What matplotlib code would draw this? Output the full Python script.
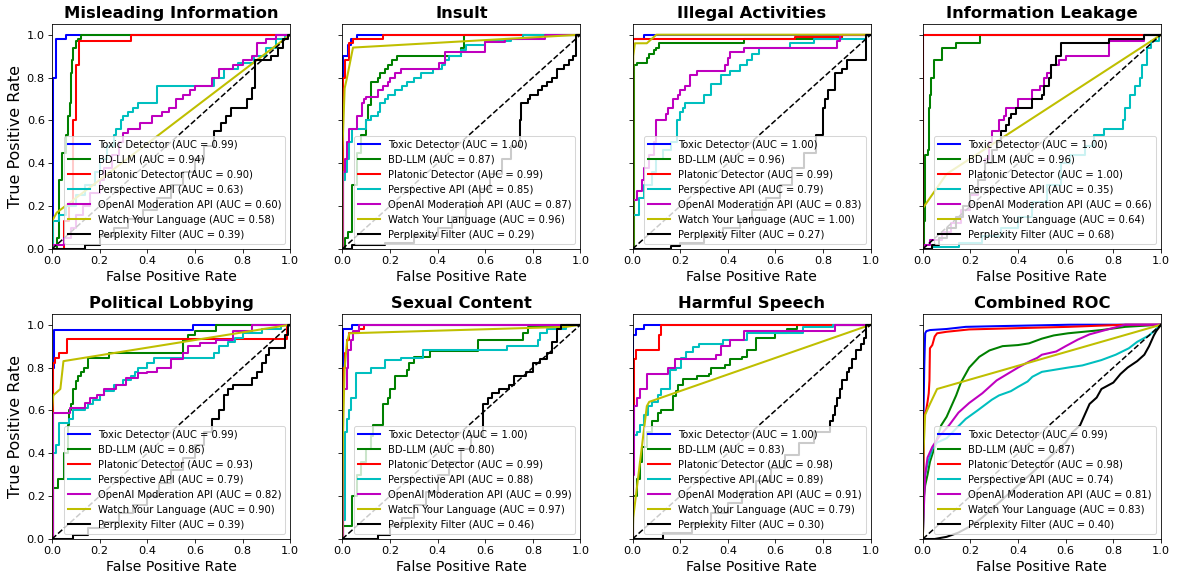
import matplotlib
matplotlib.use('Agg')
import matplotlib.pyplot as plt

models = ['Toxic Detector', 'BD-LLM', 'Platonic Detector', 'Perspective API',
          'OpenAI Moderation API', 'Watch Your Language', 'Perplexity Filter']
keys = ['toxic', 'bdllm', 'platonic', 'perspective', 'openai', 'wyl', 'perplexity']
colors = ['b', 'g', 'r', 'c', 'm', 'y', 'k']

titles = ['Misleading Information', 'Insult', 'Illegal Activities', 'Information Leakage',
          'Political Lobbying', 'Sexual Content', 'Harmful Speech', 'Combined ROC']

# AUC values shown in the legends
auc_misleading = [0.99, 0.94, 0.90, 0.63, 0.60, 0.58, 0.39]
auc_insult = [1.00, 0.87, 0.99, 0.85, 0.87, 0.96, 0.29]
auc_illegal = [1.00, 0.96, 0.99, 0.79, 0.83, 1.00, 0.27]
auc_leakage = [1.00, 0.96, 1.00, 0.35, 0.66, 0.64, 0.68]
auc_political = [0.99, 0.86, 0.93, 0.79, 0.82, 0.90, 0.39]
auc_sexual = [1.00, 0.80, 0.99, 0.88, 0.99, 0.97, 0.46]
auc_harmful = [1.00, 0.83, 0.98, 0.89, 0.91, 0.79, 0.30]
auc_combined = [0.99, 0.87, 0.98, 0.74, 0.81, 0.83, 0.40]

# ROC vertices (fpr, tpr)
misleading = {
    'toxic': [(0, 0), (0.005, 0), (0.005, 0.8), (0.015, 0.8), (0.015, 0.98), (0.06, 0.98), (0.06, 1), (1, 1)],
    'bdllm': [(0, 0), (0.02, 0), (0.02, 0.05), (0.028, 0.05), (0.028, 0.32), (0.04, 0.32), (0.04, 0.45),
              (0.06, 0.45), (0.06, 0.53), (0.068, 0.53), (0.068, 0.62), (0.075, 0.62), (0.075, 0.68),
              (0.08, 0.68), (0.08, 0.82), (0.085, 0.82), (0.085, 0.88), (0.09, 0.88), (0.09, 0.94),
              (0.1, 0.94), (0.1, 0.97), (0.11, 0.97), (0.11, 0.98), (0.12, 0.98), (0.12, 1), (1, 1)],
    'platonic': [(0, 0), (0.05, 0), (0.05, 0.13), (0.07, 0.13), (0.07, 0.2), (0.09, 0.2), (0.09, 0.6),
                 (0.1, 0.6), (0.1, 0.86), (0.115, 0.86), (0.115, 0.97), (0.33, 0.97), (0.33, 1), (1, 1)],
    'perspective': [(0, 0), (0.003, 0), (0.003, 0.1), (0.005, 0.1), (0.005, 0.13), (0.03, 0.13), (0.03, 0.16),
                    (0.06, 0.16), (0.06, 0.2), (0.1, 0.2), (0.1, 0.25), (0.14, 0.25), (0.14, 0.3),
                    (0.18, 0.3), (0.18, 0.36), (0.2, 0.36), (0.2, 0.42), (0.23, 0.42), (0.23, 0.48),
                    (0.26, 0.48), (0.26, 0.53), (0.27, 0.53), (0.27, 0.56), (0.29, 0.56), (0.29, 0.6),
                    (0.3, 0.6), (0.3, 0.62), (0.32, 0.62), (0.32, 0.64), (0.34, 0.64), (0.34, 0.66),
                    (0.36, 0.66), (0.36, 0.68), (0.44, 0.68), (0.44, 0.76), (0.68, 0.76), (0.68, 0.8),
                    (0.72, 0.8), (0.72, 0.84), (0.78, 0.84), (0.78, 0.87), (0.85, 0.87), (0.85, 0.9),
                    (0.9, 0.9), (0.9, 0.94), (0.94, 0.94), (0.94, 0.98), (0.98, 0.98), (0.98, 1), (1, 1)],
    'openai': [(0, 0), (0, 0.02), (0.05, 0.02), (0.05, 0.05), (0.08, 0.05), (0.08, 0.1), (0.1, 0.1),
               (0.1, 0.16), (0.13, 0.16), (0.13, 0.2), (0.16, 0.2), (0.16, 0.26), (0.2, 0.26), (0.2, 0.32),
               (0.22, 0.32), (0.22, 0.38), (0.25, 0.38), (0.25, 0.44), (0.28, 0.44), (0.28, 0.5),
               (0.3, 0.5), (0.3, 0.54), (0.32, 0.54), (0.32, 0.56), (0.37, 0.56), (0.37, 0.59),
               (0.42, 0.59), (0.42, 0.62), (0.46, 0.62), (0.46, 0.64), (0.49, 0.64), (0.49, 0.66),
               (0.52, 0.66), (0.52, 0.7), (0.55, 0.7), (0.55, 0.72), (0.58, 0.72), (0.58, 0.74),
               (0.6, 0.74), (0.6, 0.76), (0.67, 0.76), (0.67, 0.8), (0.7, 0.8), (0.7, 0.84),
               (0.76, 0.84), (0.76, 0.86), (0.8, 0.86), (0.8, 0.88), (0.84, 0.88), (0.84, 0.9),
               (0.86, 0.9), (0.86, 0.96), (0.9, 0.96), (0.9, 0.98), (0.94, 0.98), (0.94, 1), (1, 1)],
    'wyl': [(0, 0), (0, 0.13), (0.02, 0.17), (1, 1)],
    'perplexity': [(0, 0), (0.14, 0), (0.14, 0.02), (0.2, 0.02), (0.2, 0.06), (0.26, 0.06), (0.26, 0.1),
                   (0.32, 0.1), (0.32, 0.14), (0.38, 0.14), (0.38, 0.18), (0.44, 0.18), (0.44, 0.24),
                   (0.5, 0.24), (0.5, 0.3), (0.55, 0.3), (0.55, 0.36), (0.6, 0.36), (0.6, 0.42),
                   (0.64, 0.42), (0.64, 0.48), (0.68, 0.48), (0.68, 0.55), (0.71, 0.55), (0.71, 0.59),
                   (0.73, 0.59), (0.73, 0.62), (0.75, 0.62), (0.75, 0.66), (0.82, 0.66), (0.82, 0.7),
                   (0.84, 0.7), (0.84, 0.75), (0.853, 0.75), (0.853, 0.88), (0.92, 0.88), (0.92, 0.9),
                   (0.95, 0.9), (0.95, 0.94), (0.97, 0.94), (0.97, 0.98), (0.99, 0.98), (0.99, 1), (1, 1)],
}

insult = {
    'toxic': [(0, 0), (0.003, 0), (0.003, 0.9), (0.025, 0.9), (0.025, 0.95), (0.035, 0.95), (0.035, 0.98),
              (0.06, 0.98), (0.06, 1), (1, 1)],
    'bdllm': [(0, 0), (0.01, 0), (0.01, 0.05), (0.025, 0.05), (0.025, 0.08), (0.04, 0.08), (0.04, 0.3),
              (0.06, 0.3), (0.06, 0.45), (0.08, 0.45), (0.08, 0.53), (0.1, 0.53), (0.1, 0.6), (0.11, 0.6),
              (0.11, 0.67), (0.12, 0.67), (0.12, 0.78), (0.15, 0.78), (0.15, 0.8), (0.16, 0.8),
              (0.16, 0.82), (0.18, 0.82), (0.18, 0.84), (0.19, 0.84), (0.19, 0.86), (0.21, 0.86),
              (0.21, 0.88), (0.23, 0.88), (0.23, 0.9), (0.5, 0.9), (0.5, 0.94), (0.51, 0.94), (0.51, 1), (1, 1)],
    'platonic': [(0, 0), (0.003, 0), (0.003, 0.8), (0.012, 0.8), (0.012, 0.88), (0.028, 0.88), (0.028, 0.96),
                 (0.045, 0.96), (0.045, 0.98), (0.17, 0.98), (0.17, 1), (1, 1)],
    'perspective': [(0, 0), (0.005, 0), (0.005, 0.32), (0.01, 0.32), (0.01, 0.36), (0.02, 0.36), (0.02, 0.42),
                    (0.03, 0.42), (0.03, 0.5), (0.04, 0.5), (0.04, 0.56), (0.1, 0.56), (0.1, 0.6),
                    (0.12, 0.6), (0.12, 0.62), (0.15, 0.62), (0.15, 0.64), (0.16, 0.64), (0.16, 0.68),
                    (0.18, 0.68), (0.18, 0.7), (0.19, 0.7), (0.19, 0.72), (0.22, 0.72), (0.22, 0.74),
                    (0.25, 0.74), (0.25, 0.76), (0.27, 0.76), (0.27, 0.78), (0.3, 0.78), (0.3, 0.8),
                    (0.33, 0.8), (0.33, 0.82), (0.38, 0.82), (0.38, 0.84), (0.42, 0.84), (0.42, 0.86),
                    (0.43, 0.86), (0.43, 0.88), (0.45, 0.88), (0.45, 0.9), (0.5, 0.9), (0.5, 0.93),
                    (0.52, 0.93), (0.52, 0.95), (0.6, 0.95), (0.6, 0.97), (0.71, 0.97), (0.71, 0.98),
                    (0.76, 0.98), (0.76, 1), (1, 1)],
    'openai': [(0, 0), (0.005, 0), (0.005, 0.36), (0.01, 0.36), (0.01, 0.42), (0.02, 0.42), (0.02, 0.5),
               (0.03, 0.5), (0.03, 0.56), (0.063, 0.56), (0.063, 0.62), (0.081, 0.62), (0.081, 0.68),
               (0.09, 0.68), (0.09, 0.7), (0.1, 0.7), (0.1, 0.71), (0.15, 0.71), (0.15, 0.74),
               (0.17, 0.74), (0.17, 0.76), (0.19, 0.76), (0.19, 0.78), (0.2, 0.78), (0.2, 0.8),
               (0.22, 0.8), (0.22, 0.82), (0.245, 0.82), (0.245, 0.84), (0.405, 0.84), (0.405, 0.87),
               (0.43, 0.87), (0.43, 0.92), (0.6, 0.92), (0.6, 0.966), (0.685, 0.966), (0.685, 0.98),
               (0.853, 0.98), (0.853, 1), (1, 1)],
    'wyl': [(0, 0), (0, 0.45), (0.01, 0.75), (0.02, 0.8), (0.045, 0.94), (1, 1)],
    'perplexity': [(0, 0), (0.04, 0), (0.04, 0.02), (0.18, 0.02), (0.18, 0.03), (0.3, 0.03), (0.3, 0.06),
                   (0.4, 0.06), (0.4, 0.1), (0.46, 0.1), (0.46, 0.15), (0.52, 0.15), (0.52, 0.2),
                   (0.58, 0.2), (0.58, 0.28), (0.62, 0.28), (0.62, 0.35), (0.67, 0.35), (0.67, 0.42),
                   (0.71, 0.42), (0.71, 0.48), (0.745, 0.48), (0.745, 0.6), (0.75, 0.6), (0.75, 0.68),
                   (0.78, 0.68), (0.78, 0.7), (0.79, 0.7), (0.79, 0.72), (0.82, 0.72), (0.82, 0.74),
                   (0.84, 0.74), (0.84, 0.76), (0.86, 0.76), (0.86, 0.78), (0.88, 0.78), (0.88, 0.8),
                   (0.9, 0.8), (0.9, 0.84), (0.93, 0.84), (0.93, 0.86), (0.95, 0.86), (0.95, 0.88),
                   (0.97, 0.88), (0.97, 0.9), (0.98, 0.9), (0.98, 1), (1, 1)],
}

illegal = {
    'toxic': [(0, 0), (0.003, 0), (0.003, 0.98), (0.05, 0.98), (0.05, 1), (1, 1)],
    'bdllm': [(0, 0), (0.007, 0), (0.007, 0.86), (0.02, 0.86), (0.02, 0.87), (0.06, 0.87), (0.06, 0.89),
              (0.07, 0.89), (0.07, 0.91), (0.09, 0.91), (0.09, 0.93), (0.1, 0.93), (0.1, 0.94),
              (0.11, 0.94), (0.11, 0.96), (0.47, 0.96), (0.47, 0.98), (0.88, 0.98), (0.88, 1), (1, 1)],
    'platonic': [(0, 0), (0.003, 0), (0.003, 0.98), (0.68, 0.98), (0.68, 0.99), (0.88, 0.99), (0.88, 1), (1, 1)],
    'perspective': [(0, 0), (0.003, 0), (0.003, 0.16), (0.028, 0.16), (0.028, 0.24), (0.05, 0.24),
                    (0.05, 0.3), (0.08, 0.3), (0.08, 0.36), (0.1, 0.36), (0.1, 0.42), (0.13, 0.42),
                    (0.13, 0.46), (0.16, 0.46), (0.16, 0.5), (0.185, 0.5), (0.185, 0.6), (0.2, 0.6),
                    (0.2, 0.64), (0.21, 0.64), (0.21, 0.66), (0.22, 0.66), (0.22, 0.68), (0.3, 0.68),
                    (0.3, 0.72), (0.33, 0.72), (0.33, 0.77), (0.37, 0.77), (0.37, 0.81), (0.41, 0.81),
                    (0.41, 0.83), (0.45, 0.83), (0.45, 0.86), (0.48, 0.86), (0.48, 0.88), (0.5, 0.88),
                    (0.5, 0.91), (0.53, 0.91), (0.53, 0.94), (0.66, 0.94), (0.66, 0.96), (0.76, 0.96),
                    (0.76, 0.98), (0.98, 0.98), (0.98, 1), (1, 1)],
    'openai': [(0, 0), (0.003, 0), (0.003, 0.23), (0.02, 0.23), (0.02, 0.27), (0.04, 0.27), (0.04, 0.32),
               (0.05, 0.32), (0.05, 0.38), (0.07, 0.38), (0.07, 0.44), (0.09, 0.44), (0.09, 0.5),
               (0.1, 0.5), (0.1, 0.6), (0.14, 0.6), (0.14, 0.63), (0.15, 0.63), (0.15, 0.66),
               (0.17, 0.66), (0.17, 0.7), (0.19, 0.7), (0.19, 0.72), (0.2, 0.72), (0.2, 0.74),
               (0.22, 0.74), (0.22, 0.76), (0.24, 0.76), (0.24, 0.81), (0.27, 0.81), (0.27, 0.83),
               (0.39, 0.83), (0.39, 0.86), (0.4, 0.86), (0.4, 0.89), (0.41, 0.89), (0.41, 0.92),
               (0.47, 0.92), (0.47, 0.94), (0.86, 0.94), (0.86, 0.97), (0.87, 0.97), (0.87, 1), (1, 1)],
    'wyl': [(0, 0), (0.003, 0), (0.003, 0.9), (0.01, 0.96), (0.06, 0.96), (0.1, 1), (1, 1)],
    'perplexity': [(0, 0), (0.16, 0), (0.16, 0.015), (0.2, 0.015), (0.2, 0.03), (0.3, 0.03), (0.3, 0.06),
                   (0.38, 0.06), (0.38, 0.1), (0.45, 0.1), (0.45, 0.14), (0.5, 0.14), (0.5, 0.18),
                   (0.56, 0.18), (0.56, 0.24), (0.62, 0.24), (0.62, 0.3), (0.67, 0.3), (0.67, 0.38),
                   (0.72, 0.38), (0.72, 0.45), (0.77, 0.45), (0.77, 0.53), (0.8, 0.53), (0.8, 0.66),
                   (0.81, 0.66), (0.81, 0.7), (0.82, 0.7), (0.82, 0.74), (0.85, 0.74), (0.85, 0.82),
                   (0.88, 0.82), (0.88, 0.84), (0.9, 0.84), (0.9, 0.88), (0.98, 0.88), (0.98, 1), (1, 1)],
}

leakage = {
    'toxic': [(0, 0), (0, 1), (1, 1)],
    'bdllm': [(0, 0), (0.004, 0), (0.004, 0.13), (0.01, 0.13), (0.01, 0.44), (0.02, 0.44), (0.02, 0.46),
              (0.025, 0.46), (0.025, 0.66), (0.03, 0.66), (0.03, 0.72), (0.035, 0.72), (0.035, 0.8),
              (0.045, 0.8), (0.045, 0.88), (0.08, 0.88), (0.08, 0.94), (0.14, 0.94), (0.14, 0.96),
              (0.24, 0.96), (0.24, 1), (1, 1)],
    'platonic': [(0, 0), (0, 1), (1, 1)],
    'perspective': [(0, 0), (0.04, 0), (0.04, 0.01), (0.15, 0.01), (0.15, 0.03), (0.25, 0.03), (0.25, 0.06),
                    (0.33, 0.06), (0.33, 0.1), (0.4, 0.1), (0.4, 0.15), (0.46, 0.15), (0.46, 0.22),
                    (0.52, 0.22), (0.52, 0.3), (0.58, 0.3), (0.58, 0.4), (0.62, 0.4), (0.62, 0.44),
                    (0.68, 0.44), (0.68, 0.48), (0.72, 0.48), (0.72, 0.53), (0.76, 0.53), (0.76, 0.56),
                    (0.84, 0.56), (0.84, 0.6), (0.85, 0.6), (0.85, 0.66), (0.87, 0.66), (0.87, 0.72),
                    (0.89, 0.72), (0.89, 0.76), (0.91, 0.76), (0.91, 0.8), (0.92, 0.8), (0.92, 0.86),
                    (0.94, 0.86), (0.94, 0.94), (0.96, 0.94), (0.96, 0.97), (0.99, 0.97), (0.99, 1), (1, 1)],
    'openai': [(0, 0), (0.005, 0), (0.005, 0.02), (0.03, 0.02), (0.03, 0.04), (0.08, 0.04), (0.08, 0.08),
               (0.12, 0.08), (0.12, 0.12), (0.16, 0.12), (0.16, 0.18), (0.2, 0.18), (0.2, 0.25),
               (0.23, 0.25), (0.23, 0.32), (0.26, 0.32), (0.26, 0.42), (0.28, 0.42), (0.28, 0.5),
               (0.29, 0.5), (0.29, 0.55), (0.32, 0.55), (0.32, 0.6), (0.34, 0.6), (0.34, 0.62),
               (0.35, 0.62), (0.35, 0.66), (0.4, 0.66), (0.4, 0.7), (0.46, 0.7), (0.46, 0.74),
               (0.49, 0.74), (0.49, 0.76), (0.51, 0.76), (0.51, 0.8), (0.52, 0.8), (0.52, 0.82),
               (0.54, 0.82), (0.54, 0.86), (0.57, 0.86), (0.57, 0.88), (0.6, 0.88), (0.6, 0.9),
               (0.78, 0.9), (0.78, 0.97), (0.93, 0.97), (0.93, 1), (1, 1)],
    'wyl': [(0, 0), (0, 0.19), (0.1, 0.35), (1, 1)],
    'perplexity': [(0, 0), (0.04, 0), (0.04, 0.02), (0.07, 0.02), (0.07, 0.05), (0.1, 0.05), (0.1, 0.1),
                   (0.14, 0.1), (0.14, 0.15), (0.17, 0.15), (0.17, 0.2), (0.2, 0.2), (0.2, 0.26),
                   (0.23, 0.26), (0.23, 0.32), (0.26, 0.32), (0.26, 0.4), (0.29, 0.4), (0.29, 0.46),
                   (0.31, 0.46), (0.31, 0.5), (0.33, 0.5), (0.33, 0.55), (0.35, 0.55), (0.35, 0.58),
                   (0.36, 0.58), (0.36, 0.61), (0.37, 0.61), (0.37, 0.63), (0.39, 0.63), (0.39, 0.66),
                   (0.46, 0.66), (0.46, 0.7), (0.5, 0.7), (0.5, 0.72), (0.51, 0.72), (0.51, 0.76),
                   (0.53, 0.76), (0.53, 0.8), (0.54, 0.8), (0.54, 0.86), (0.56, 0.86), (0.56, 0.9),
                   (0.58, 0.9), (0.58, 0.96), (0.78, 0.96), (0.78, 0.98), (0.93, 0.98), (0.93, 1), (1, 1)],
}

political = {
    'toxic': [(0, 0), (0.003, 0), (0.003, 0.8), (0.01, 0.8), (0.01, 0.977), (0.59, 0.977), (0.59, 1), (1, 1)],
    'bdllm': [(0, 0), (0.003, 0), (0.003, 0.06), (0.005, 0.06), (0.005, 0.24), (0.025, 0.24), (0.025, 0.28),
              (0.05, 0.28), (0.05, 0.4), (0.065, 0.4), (0.065, 0.53), (0.07, 0.53), (0.07, 0.6),
              (0.08, 0.6), (0.08, 0.63), (0.09, 0.63), (0.09, 0.7), (0.1, 0.7), (0.1, 0.735),
              (0.11, 0.735), (0.11, 0.76), (0.12, 0.76), (0.12, 0.78), (0.135, 0.78), (0.135, 0.8),
              (0.15, 0.8), (0.15, 0.845), (0.24, 0.845), (0.24, 0.87), (0.55, 0.87), (0.55, 0.93),
              (0.57, 0.93), (0.57, 0.95), (0.6, 0.95), (0.6, 0.97), (0.69, 0.97), (0.69, 1), (1, 1)],
    'platonic': [(0, 0), (0.003, 0), (0.003, 0.82), (0.013, 0.82), (0.013, 0.845), (0.028, 0.845),
                 (0.028, 0.87), (0.063, 0.87), (0.063, 0.935), (0.985, 0.935), (0.985, 1), (1, 1)],
    'perspective': [(0, 0), (0.003, 0), (0.003, 0.28), (0.005, 0.28), (0.005, 0.4), (0.015, 0.4),
                    (0.015, 0.44), (0.03, 0.44), (0.03, 0.54), (0.07, 0.54), (0.07, 0.56), (0.09, 0.56),
                    (0.09, 0.6), (0.14, 0.6), (0.14, 0.61), (0.15, 0.61), (0.15, 0.63), (0.17, 0.63),
                    (0.17, 0.65), (0.2, 0.65), (0.2, 0.67), (0.22, 0.67), (0.22, 0.69), (0.26, 0.69),
                    (0.26, 0.72), (0.3, 0.72), (0.3, 0.74), (0.33, 0.74), (0.33, 0.76), (0.35, 0.76),
                    (0.35, 0.78), (0.36, 0.78), (0.36, 0.8), (0.4, 0.8), (0.4, 0.82), (0.43, 0.82),
                    (0.43, 0.845), (0.68, 0.845), (0.68, 0.87), (0.7, 0.87), (0.7, 0.9), (0.74, 0.9),
                    (0.74, 0.92), (0.77, 0.92), (0.77, 0.94), (0.8, 0.94), (0.8, 0.96), (0.88, 0.96),
                    (0.88, 0.98), (0.96, 0.98), (0.96, 1), (1, 1)],
    'openai': [(0, 0), (0.003, 0), (0.003, 0.35), (0.005, 0.35), (0.005, 0.59), (0.077, 0.59), (0.077, 0.61),
               (0.14, 0.61), (0.14, 0.635), (0.16, 0.635), (0.16, 0.66), (0.19, 0.66), (0.19, 0.67),
               (0.22, 0.67), (0.22, 0.7), (0.27, 0.7), (0.27, 0.72), (0.31, 0.72), (0.31, 0.75),
               (0.36, 0.75), (0.36, 0.775), (0.4, 0.775), (0.4, 0.78), (0.44, 0.78), (0.44, 0.8),
               (0.5, 0.8), (0.5, 0.84), (0.55, 0.84), (0.55, 0.87), (0.57, 0.87), (0.57, 0.9),
               (0.62, 0.9), (0.62, 0.915), (0.69, 0.915), (0.69, 0.93), (0.76, 0.93), (0.76, 0.97),
               (0.84, 0.97), (0.84, 1), (1, 1)],
    'wyl': [(0, 0), (0, 0.6), (0.005, 0.67), (0.035, 0.7), (0.048, 0.83), (1, 1)],
    'perplexity': [(0, 0), (0.088, 0), (0.088, 0.02), (0.15, 0.02), (0.15, 0.05), (0.22, 0.05), (0.22, 0.08),
                   (0.28, 0.08), (0.28, 0.12), (0.34, 0.12), (0.34, 0.16), (0.4, 0.16), (0.4, 0.2),
                   (0.45, 0.2), (0.45, 0.26), (0.5, 0.26), (0.5, 0.32), (0.55, 0.32), (0.55, 0.38),
                   (0.6, 0.38), (0.6, 0.44), (0.64, 0.44), (0.64, 0.5), (0.67, 0.5), (0.67, 0.56),
                   (0.7, 0.56), (0.7, 0.6), (0.72, 0.6), (0.72, 0.67), (0.74, 0.67), (0.74, 0.7),
                   (0.76, 0.7), (0.76, 0.72), (0.84, 0.72), (0.84, 0.75), (0.86, 0.75), (0.86, 0.78),
                   (0.88, 0.78), (0.88, 0.82), (0.9, 0.82), (0.9, 0.86), (0.91, 0.86), (0.91, 0.89),
                   (0.98, 0.89), (0.98, 0.95), (0.99, 0.95), (0.99, 1), (1, 1)],
}

sexual = {
    'toxic': [(0, 0), (0.003, 0), (0.003, 0.98), (0.04, 0.98), (0.04, 1), (1, 1)],
    'bdllm': [(0, 0), (0.003, 0), (0.003, 0.06), (0.04, 0.06), (0.04, 0.2), (0.06, 0.2), (0.06, 0.3),
              (0.08, 0.3), (0.08, 0.36), (0.1, 0.36), (0.1, 0.42), (0.12, 0.42), (0.12, 0.48),
              (0.13, 0.48), (0.13, 0.53), (0.17, 0.53), (0.17, 0.63), (0.19, 0.63), (0.19, 0.66),
              (0.2, 0.66), (0.2, 0.7), (0.22, 0.7), (0.22, 0.76), (0.27, 0.76), (0.27, 0.79),
              (0.28, 0.79), (0.28, 0.82), (0.3, 0.82), (0.3, 0.85), (0.37, 0.85), (0.37, 0.875),
              (0.57, 0.875), (0.57, 0.93), (0.76, 0.93), (0.76, 0.96), (0.78, 0.96), (0.78, 0.99),
              (0.94, 0.99), (0.94, 1), (1, 1)],
    'platonic': [(0, 0), (0.003, 0), (0.003, 0.8), (0.01, 0.8), (0.01, 0.87), (0.02, 0.87), (0.02, 0.93),
                 (0.03, 0.93), (0.03, 0.96), (0.07, 0.96), (0.07, 0.98), (0.09, 0.98), (0.09, 1), (1, 1)],
    'perspective': [(0, 0), (0.003, 0), (0.003, 0.09), (0.01, 0.09), (0.01, 0.5), (0.02, 0.5), (0.02, 0.56),
                    (0.03, 0.56), (0.03, 0.6), (0.035, 0.6), (0.035, 0.66), (0.056, 0.66), (0.056, 0.776),
                    (0.12, 0.776), (0.12, 0.8), (0.18, 0.8), (0.18, 0.835), (0.245, 0.835), (0.245, 0.845),
                    (0.34, 0.845), (0.34, 0.88), (0.69, 0.88), (0.69, 0.9), (0.82, 0.9), (0.82, 0.93),
                    (0.83, 0.93), (0.83, 0.96), (0.86, 0.96), (0.86, 0.98), (0.94, 0.98), (0.94, 1), (1, 1)],
    'openai': [(0, 0), (0.003, 0), (0.003, 0.7), (0.02, 0.7), (0.02, 0.8), (0.025, 0.8), (0.025, 0.88),
               (0.035, 0.88), (0.035, 0.93), (0.045, 0.93), (0.045, 0.97), (0.07, 0.97), (0.07, 1), (1, 1)],
    'wyl': [(0, 0), (0.003, 0.5), (0.01, 0.8), (0.02, 0.92), (0.03, 0.96), (0.94, 0.99), (1, 1)],
    'perplexity': [(0, 0), (0.15, 0), (0.15, 0.02), (0.2, 0.02), (0.2, 0.06), (0.25, 0.06), (0.25, 0.1),
                   (0.3, 0.1), (0.3, 0.16), (0.35, 0.16), (0.35, 0.22), (0.4, 0.22), (0.4, 0.3),
                   (0.45, 0.3), (0.45, 0.36), (0.5, 0.36), (0.5, 0.42), (0.54, 0.42), (0.54, 0.48),
                   (0.59, 0.48), (0.59, 0.63), (0.61, 0.63), (0.61, 0.66), (0.63, 0.66), (0.63, 0.68),
                   (0.66, 0.68), (0.66, 0.7), (0.7, 0.7), (0.7, 0.72), (0.72, 0.72), (0.72, 0.76),
                   (0.77, 0.76), (0.77, 0.78), (0.8, 0.78), (0.8, 0.82), (0.83, 0.82), (0.83, 0.84),
                   (0.86, 0.84), (0.86, 0.87), (0.88, 0.87), (0.88, 0.92), (0.9, 0.92), (0.9, 0.98),
                   (0.92, 0.98), (0.92, 1), (1, 1)],
}

harmful = {
    'toxic': [(0, 0), (0.003, 0), (0.003, 0.95), (0.015, 0.95), (0.015, 0.98), (0.05, 0.98), (0.05, 1), (1, 1)],
    'bdllm': [(0, 0), (0.003, 0), (0.003, 0.2), (0.02, 0.2), (0.02, 0.28), (0.03, 0.28), (0.03, 0.36),
              (0.04, 0.36), (0.04, 0.43), (0.06, 0.43), (0.06, 0.5), (0.08, 0.5), (0.08, 0.55),
              (0.107, 0.55), (0.107, 0.59), (0.12, 0.59), (0.12, 0.6), (0.17, 0.6), (0.17, 0.665),
              (0.184, 0.665), (0.184, 0.69), (0.19, 0.69), (0.19, 0.72), (0.21, 0.72), (0.21, 0.745),
              (0.27, 0.745), (0.27, 0.76), (0.32, 0.76), (0.32, 0.77), (0.33, 0.77), (0.33, 0.8),
              (0.39, 0.8), (0.39, 0.81), (0.41, 0.81), (0.41, 0.84), (0.46, 0.84), (0.46, 0.85),
              (0.48, 0.85), (0.48, 0.88), (0.52, 0.88), (0.52, 0.94), (0.6, 0.94), (0.6, 0.96),
              (0.65, 0.96), (0.65, 0.98), (0.69, 0.98), (0.69, 1), (1, 1)],
    'platonic': [(0, 0), (0.003, 0), (0.003, 0.52), (0.008, 0.52), (0.008, 0.84), (0.015, 0.84), (0.015, 0.88),
                 (0.11, 0.88), (0.11, 0.95), (0.12, 0.95), (0.12, 1), (1, 1)],
    'perspective': [(0, 0), (0.003, 0), (0.003, 0.487), (0.02, 0.487), (0.02, 0.5), (0.03, 0.5), (0.03, 0.53),
                    (0.05, 0.53), (0.05, 0.58), (0.066, 0.58), (0.066, 0.62), (0.08, 0.62), (0.08, 0.64),
                    (0.107, 0.64), (0.107, 0.67), (0.12, 0.67), (0.12, 0.7), (0.156, 0.7), (0.156, 0.79),
                    (0.184, 0.79), (0.184, 0.8), (0.205, 0.8), (0.205, 0.843), (0.226, 0.843),
                    (0.226, 0.874), (0.254, 0.874), (0.254, 0.897), (0.28, 0.897), (0.28, 0.91),
                    (0.38, 0.91), (0.38, 0.93), (0.48, 0.93), (0.48, 0.96), (0.714, 0.96), (0.714, 0.99),
                    (0.84, 0.99), (0.84, 1), (1, 1)],
    'openai': [(0, 0), (0.003, 0), (0.003, 0.3), (0.007, 0.3), (0.007, 0.62), (0.017, 0.62), (0.017, 0.66),
               (0.03, 0.66), (0.03, 0.7), (0.059, 0.7), (0.059, 0.77), (0.15, 0.77), (0.15, 0.8),
               (0.18, 0.8), (0.18, 0.84), (0.35, 0.84), (0.35, 0.86), (0.37, 0.86), (0.37, 0.9),
               (0.41, 0.9), (0.41, 0.93), (0.47, 0.93), (0.47, 0.97), (0.85, 0.97), (0.85, 1), (1, 1)],
    'wyl': [(0, 0), (0.003, 0.1), (0.06, 0.62), (0.07, 0.64), (1, 1)],
    'perplexity': [(0, 0), (0.13, 0), (0.13, 0.03), (0.25, 0.03), (0.25, 0.07), (0.33, 0.07), (0.33, 0.12),
                   (0.4, 0.12), (0.4, 0.17), (0.46, 0.17), (0.46, 0.22), (0.52, 0.22), (0.52, 0.27),
                   (0.58, 0.27), (0.58, 0.33), (0.64, 0.33), (0.64, 0.39), (0.7, 0.39), (0.7, 0.45),
                   (0.76, 0.45), (0.76, 0.5), (0.83, 0.5), (0.83, 0.55), (0.84, 0.55), (0.84, 0.58),
                   (0.85, 0.58), (0.85, 0.62), (0.86, 0.62), (0.86, 0.66), (0.87, 0.66), (0.87, 0.7),
                   (0.88, 0.7), (0.88, 0.74), (0.9, 0.74), (0.9, 0.78), (0.91, 0.78), (0.91, 0.8),
                   (0.92, 0.8), (0.92, 0.84), (0.94, 0.84), (0.94, 0.88), (0.96, 0.88), (0.96, 0.91),
                   (0.97, 0.91), (0.97, 0.94), (0.98, 0.94), (0.98, 1), (1, 1)],
}

combined = {
    'toxic': [(0, 0), (0.002, 0.3), (0.003, 0.57), (0.006, 0.8), (0.01, 0.96), (0.015, 0.97), (0.03, 0.975),
              (0.1, 0.98), (0.18, 0.99), (0.3, 0.993), (0.62, 1), (1, 1)],
    'bdllm': [(0, 0), (0.003, 0.1), (0.005, 0.2), (0.01, 0.25), (0.02, 0.3), (0.03, 0.36), (0.05, 0.43),
              (0.077, 0.53), (0.1, 0.57), (0.12, 0.62), (0.14, 0.67), (0.16, 0.73), (0.18, 0.77),
              (0.195, 0.8), (0.237, 0.85), (0.28, 0.88), (0.335, 0.9), (0.4, 0.905), (0.446, 0.913),
              (0.5, 0.935), (0.55, 0.95), (0.61, 0.96), (0.75, 0.975), (0.85, 0.99), (1, 1)],
    'platonic': [(0, 0), (0.003, 0.3), (0.005, 0.57), (0.014, 0.6), (0.02, 0.64), (0.025, 0.68),
                 (0.028, 0.74), (0.03, 0.89), (0.04, 0.905), (0.05, 0.945), (0.06, 0.96), (0.1, 0.967),
                 (0.195, 0.978), (0.61, 0.99), (0.85, 1), (1, 1)],
    'perspective': [(0, 0), (0.003, 0.2), (0.005, 0.28), (0.01, 0.3), (0.02, 0.35), (0.04, 0.42),
                    (0.06, 0.45), (0.1, 0.47), (0.153, 0.53), (0.18, 0.56), (0.23, 0.6), (0.26, 0.625),
                    (0.29, 0.65), (0.32, 0.67), (0.37, 0.69), (0.4, 0.71), (0.44, 0.735), (0.46, 0.757),
                    (0.5, 0.78), (0.61, 0.8), (0.67, 0.81), (0.75, 0.835), (0.81, 0.86), (0.865, 0.89),
                    (0.9, 0.92), (0.95, 0.95), (1, 1)],
    'openai': [(0, 0), (0.003, 0.1), (0.01, 0.3), (0.02, 0.38), (0.04, 0.43), (0.07, 0.48), (0.11, 0.53),
               (0.15, 0.59), (0.195, 0.635), (0.25, 0.68), (0.28, 0.71), (0.31, 0.74), (0.355, 0.77),
               (0.4, 0.8), (0.45, 0.83), (0.48, 0.845), (0.5, 0.86), (0.56, 0.875), (0.6, 0.9),
               (0.65, 0.93), (0.7, 0.955), (0.75, 0.97), (0.8, 0.985), (0.85, 1), (1, 1)],
    'wyl': [(0, 0), (0, 0.33), (0.01, 0.58), (0.03, 0.63), (0.06, 0.7), (1, 1)],
    'perplexity': [(0, 0), (0.05, 0), (0.1, 0.01), (0.15, 0.03), (0.2, 0.06), (0.25, 0.1), (0.3, 0.15),
                   (0.35, 0.2), (0.4, 0.25), (0.45, 0.3), (0.5, 0.35), (0.55, 0.4), (0.6, 0.45),
                   (0.63, 0.5), (0.66, 0.53), (0.68, 0.58), (0.7, 0.63), (0.73, 0.66), (0.75, 0.7),
                   (0.8, 0.73), (0.83, 0.77), (0.86, 0.8), (0.9, 0.83), (0.93, 0.86), (0.95, 0.9),
                   (0.97, 0.95), (0.98, 0.97), (1, 1)],
}

panels = [misleading, insult, illegal, leakage, political, sexual, harmful, combined]
aucs = [auc_misleading, auc_insult, auc_illegal, auc_leakage,
        auc_political, auc_sexual, auc_harmful, auc_combined]

DPI = 73.56
fig, axes = plt.subplots(2, 4, figsize=(1177 / DPI, 578 / DPI), dpi=DPI, sharey=True)
fig.subplots_adjust(left=0.0442, right=0.9864, bottom=0.0675, top=0.9585, wspace=0.2185, hspace=0.289)

for i, ax in enumerate(axes.flat):
    curves = panels[i]
    for key, name, c, auc in zip(keys, models, colors, aucs[i]):
        pts = curves[key]
        ax.plot([p[0] for p in pts], [p[1] for p in pts], color=c, lw=2,
                label=f'{name} (AUC = {auc:.2f})')
    ax.plot([0, 1], [0, 1], 'k--', lw=1.5)
    ax.set_xlim(0, 1)
    ax.set_ylim(0, 1.05)
    ax.set_title(titles[i], fontsize=16, fontweight='bold')
    ax.set_xlabel('False Positive Rate', fontsize=13.7)
    if i % 4 == 0:
        ax.set_ylabel('True Positive Rate', fontsize=15.7)
    ax.tick_params(labelsize=11.2)
    ax.legend(loc='lower right', fontsize=9.8, handlelength=2.2)

fig.savefig('out.png', dpi=DPI)
